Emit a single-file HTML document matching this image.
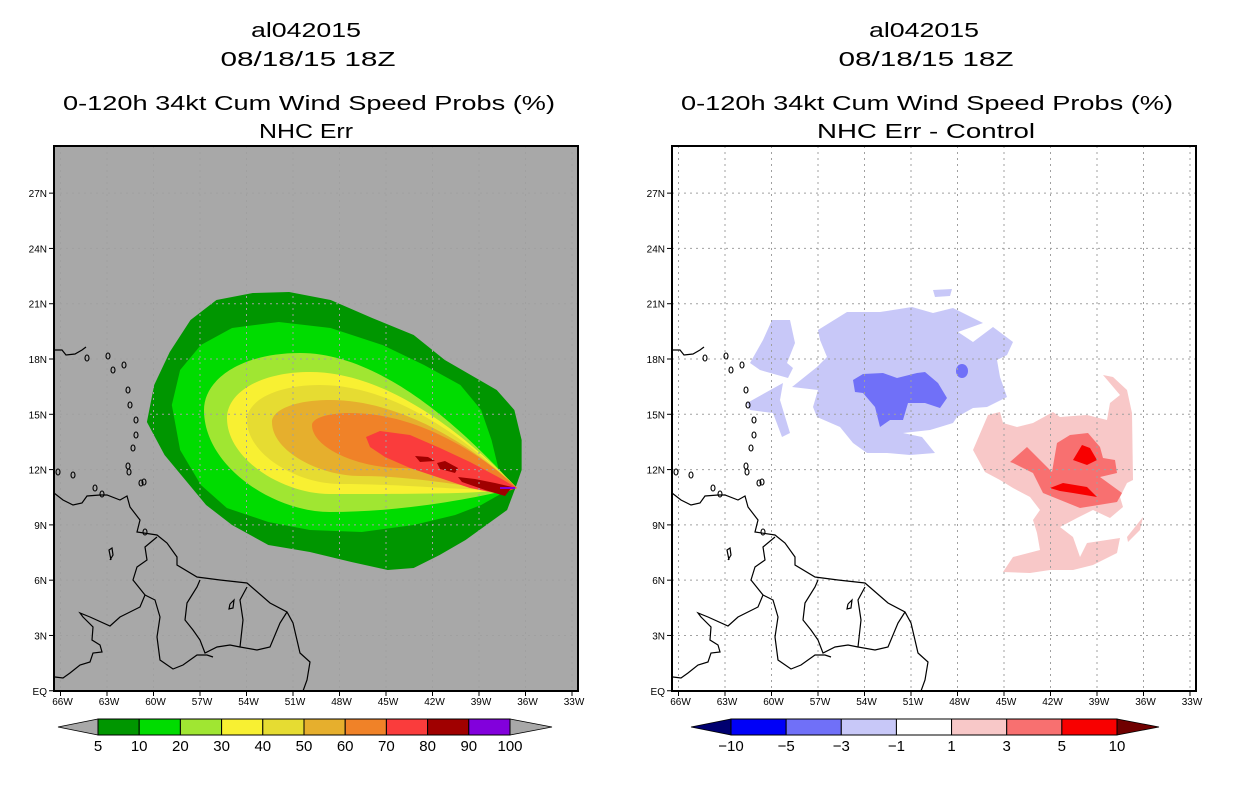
<!DOCTYPE html>
<html><head><meta charset="utf-8"><style>
html,body{margin:0;padding:0;background:#fff;}
svg{display:block;font-family:"Liberation Sans",sans-serif;}
</style></head><body>
<svg id="root" width="1236" height="800" viewBox="0 0 1236 800" xmlns="http://www.w3.org/2000/svg">
<defs>
<clipPath id="clipL"><rect x="54" y="146" width="524" height="545"/></clipPath>
<clipPath id="clipR"><rect x="672" y="146" width="524" height="545"/></clipPath>
</defs>
<g font-size="20" text-anchor="middle" fill="#000">
<text x="306" y="37" textLength="110" lengthAdjust="spacingAndGlyphs">al042015</text>
<text x="308" y="66" textLength="175" lengthAdjust="spacingAndGlyphs">08/18/15 18Z</text>
<text x="309" y="110" textLength="492" lengthAdjust="spacingAndGlyphs">0-120h 34kt Cum Wind Speed Probs (%)</text>
<text x="306" y="138" textLength="94" lengthAdjust="spacingAndGlyphs">NHC Err</text>
</g>
<g font-size="20" text-anchor="middle" fill="#000">
<text x="924" y="37" textLength="110" lengthAdjust="spacingAndGlyphs">al042015</text>
<text x="926" y="66" textLength="175" lengthAdjust="spacingAndGlyphs">08/18/15 18Z</text>
<text x="927" y="110" textLength="492" lengthAdjust="spacingAndGlyphs">0-120h 34kt Cum Wind Speed Probs (%)</text>
<text x="926" y="138" textLength="218" lengthAdjust="spacingAndGlyphs">NHC Err - Control</text>
</g>
<g id="left"></g>
<g id="right"></g>
<g id="cbL"></g>
<g id="cbR"></g>
</svg>
<script>
const NS="http://www.w3.org/2000/svg";
// colorbar data
const probLevels=["5","10","20","30","40","50","60","70","80","90","100"];
const probColors=["#009600","#00dc00","#a0e632","#f8f032","#e6dc32","#e6af2d","#f08228","#fa3c3c","#a00000","#8200dc"];
const diffLevels=["-10","-5","-3","-1","1","3","5","10"];
const diffColors=["#0000f8","#7070f8","#c8c8f8","#ffffff","#f8c8c8","#f87070","#f80000"];
const lonTicks=[66,63,60,57,54,51,48,45,42,39,36,33];
const latTicks=[0,3,6,9,12,15,18,21,24,27];

function X(lon){return 200+(57-lon)*15.5;}
function Y(lat){return 414.3+(15-lat)*18.43;}
function mk(tag,attrs,parent){const e=document.createElementNS(NS,tag);for(const k in attrs)e.setAttribute(k,attrs[k]);parent.appendChild(e);return e;}
function pts(a,dx){return a.map(p=>(p[0]+(dx||0))+","+p[1]).join(" ");}
const cx=x=>40+(x-40)*1.038;

// left map contour bands (pixel outlines)
const band5=[[143,422],[150,385],[165,352],[185,320],[210,300],[245,293],[280,292],[320,300],[360,318],[400,335],[430,360],[455,375],[480,390],[497,410],[504,440],[504,470],[498,488],[490,510],[470,525],[450,540],[425,555],[400,568],[375,570],[340,562],[300,552],[260,545],[225,525],[200,505],[180,480],[160,455]].map(p=>[cx(p[0]),p[1]]);
const band10=[[167,405],[175,370],[195,345],[225,328],[270,322],[320,328],[370,345],[410,365],[445,385],[465,410],[475,440],[482,470],[494,488],[465,505],[440,515],[400,525],[350,532],[300,530],[260,522],[220,508],[195,485],[175,450]].map(p=>[cx(p[0]),p[1]]);
const tip=[517,488];
// teardrop params: left x, left y, top x, top y, bottom x, bottom y
const drops=[[204,410,300,353,330,512],[227,418,310,372,330,494],[247,420,320,385,340,484],[272,422,330,400,360,476],[312,425,350,413,400,468]];
function dropPath(d){const [lx,ly,tx,ty,bx,by]=d;const T=tip;
return `M${T[0]},${T[1]} C${T[0]-25},${T[1]-25} ${tx+(T[0]-tx)*0.45},${ty} ${tx},${ty} C${lx+(tx-lx)*0.4},${ty} ${lx},${ly-(ly-ty)*0.55} ${lx},${ly} C${lx},${ly+(by-ly)*0.55} ${bx-(bx-lx)*0.45},${by} ${bx},${by} C${bx+(T[0]-bx)*0.45},${by} ${T[0]-25},${T[1]+6} ${T[0]},${T[1]} Z`;}
const band70=[[366,437],[380,431],[410,435],[440,448],[470,462],[500,478],[517,488],[500,494],[470,488],[440,478],[410,468],[385,457],[370,447]];
const band80=[[[415,456],[428,457],[435,461],[420,462]],[[437,463],[445,461],[458,468],[455,473],[440,469]],[[458,477],[475,479],[495,483],[512,487],[505,496],[485,490],[462,482]]];

// coastline polylines (left-panel pixels)
const coasts=[
[[54,493],[63,500],[73,505],[82,503],[87,496],[100,495],[107,495],[120,500],[127,496],[130,507],[140,520],[137,532],[157,535],[167,543],[177,557],[177,565],[197,577],[220,580],[247,583],[270,603],[287,612],[293,623],[300,653],[310,662],[307,680],[303,691]],
[[55,677],[63,678],[70,673],[80,665],[90,662],[93,653],[102,652],[100,645],[92,640],[93,627],[83,617],[80,613],[90,617],[110,626],[120,617],[140,607],[145,595],[133,580],[137,567],[147,560],[145,547],[157,537]],
[[145,595],[155,600],[160,617],[157,637],[160,660],[173,669],[183,665],[197,655],[207,655],[213,657]],
[[200,580],[197,587],[187,603],[185,620],[193,630],[200,640],[205,653],[217,647],[230,645],[240,647]],
[[247,587],[240,600],[243,620],[240,647],[257,650],[270,647],[280,623],[287,612]],
[[54,350],[62,350],[66,355],[75,354],[82,350],[86,347]],
[[110,560],[113,555],[112,548],[109,550],[111,560]],
[[230,604],[234,600],[233,608],[229,609],[230,604]]
];
const isles=[[108,356],[113,370],[124,365],[128,390],[130,405],[136,420],[136,435],[133,448],[128,466],[141,483],[144,482],[129,472],[87,358],[58,472],[73,475],[95,488],[102,494],[145,532]];

function drawMap(g,clip,dx,isRight){
  const c=mk("g",{"clip-path":`url(#${clip})`},g);
  
  
  mk("rect",{x:54+dx,y:146,width:524,height:545,fill:isRight?"#ffffff":"#a8a8a8"},c);
  if(!isRight){
    const b5=mk("polygon",{points:pts(band5),fill:probColors[0]},c);
    
    
    const b10=mk("polygon",{points:pts(band10),fill:probColors[1]},c);
    
    
    drops.forEach((d,i)=>{const p=mk("path",{d:dropPath(d),fill:probColors[i+2]},c);
      
      });
    const b70=mk("polygon",{points:pts(band70),fill:probColors[7]},c);
    
    
    band80.forEach(b=>{const p=mk("polygon",{points:pts(b),fill:probColors[8]},c);
      
      });
    const pu=mk("line",{x1:500,y1:488,x2:515,y2:488,stroke:probColors[9],"stroke-width":2},c);
    
    
  } else {
    drawDiff(c);
  }
  // grid
  lonTicks.forEach(l=>{const x=X(l)+dx;const ln=mk("line",{x1:x,y1:146,x2:x,y2:691,stroke:"#a0a0a0","stroke-width":1,"stroke-dasharray":"2,4"},c);
    
    });
  latTicks.forEach(l=>{const y=Y(l);const ln=mk("line",{x1:54+dx,y1:y,x2:578+dx,y2:y,stroke:"#a0a0a0","stroke-width":1,"stroke-dasharray":"2,4"},c);
    
    });
  // coasts
  coasts.forEach(cs=>{const p=mk("polyline",{points:pts(cs,dx),fill:"none",stroke:"#000","stroke-width":1.2},c);
    
    });
  isles.forEach(p=>{const e=mk("ellipse",{cx:p[0]+dx,cy:p[1],rx:2,ry:3,fill:"none",stroke:"#000","stroke-width":1.1},c);
    
    });
  // frame
  const fr=mk("rect",{x:54+dx,y:146,width:524,height:545,fill:"none",stroke:"#000","stroke-width":2},g);
  
  
  // ticks & labels
  lonTicks.forEach(l=>{const x=X(l)+dx;
    mk("line",{x1:x,y1:691,x2:x,y2:696,stroke:"#000"},g);
    const t=mk("text",{x:x+2,y:705,"font-size":10,"text-anchor":"middle"},g);t.textContent=l+"W";
    
    });
  latTicks.forEach(l=>{const y=Y(l);
    mk("line",{x1:49+dx,y1:y,x2:54+dx,y2:y,stroke:"#000"},g);
    const t=mk("text",{x:47+dx,y:y+4,"font-size":10,"text-anchor":"end"},g);t.textContent=l===0?"EQ":l+"N";
    
    });
}

// right map difference regions (absolute pixels)
const lightBlue=[
[[818,330],[847,312],[880,312],[912,307],[933,313],[953,308],[983,323],[958,332],[973,342],[993,327],[1013,342],[1007,355],[997,360],[1000,377],[1007,397],[987,407],[973,408],[957,417],[953,423],[940,427],[930,430],[903,433],[922,437],[935,453],[910,455],[887,453],[867,453],[853,443],[840,427],[817,417],[813,407],[818,390],[792,387],[817,367],[827,357],[820,340]],
[[772,320],[790,320],[795,343],[787,363],[793,368],[788,378],[760,370],[750,363],[763,340]],
[[747,403],[783,383],[780,400],[790,433],[782,437],[773,413],[750,410]],
[[933,290],[952,289],[950,296],[935,297]]];
const midBlue=[[[853,380],[863,374],[883,373],[897,378],[917,373],[925,372],[938,383],[947,398],[940,408],[925,403],[908,403],[903,420],[890,420],[880,427],[875,407],[863,393],[855,392]]];
const pink=[
[[973,450],[988,415],[1000,412],[1003,423],[1017,427],[1033,423],[1053,412],[1060,417],[1087,415],[1107,420],[1110,403],[1120,395],[1103,375],[1113,377],[1127,390],[1132,413],[1133,480],[1127,483],[1120,497],[1123,507],[1110,518],[1093,510],[1083,515],[1077,518],[1060,527],[1073,537],[1080,557],[1087,543],[1120,538],[1117,553],[1093,565],[1073,570],[1050,570],[1030,573],[1003,572],[1013,557],[1040,550],[1037,533],[1033,520],[1040,510],[1030,497],[1013,488],[1000,480],[985,472]],
[[1127,537],[1143,517],[1140,530],[1128,542]]];
const salmon=[[[1010,462],[1027,447],[1037,457],[1052,472],[1057,443],[1070,435],[1088,433],[1100,447],[1103,458],[1115,460],[1117,473],[1100,477],[1122,493],[1117,502],[1080,508],[1043,493],[1033,473],[1013,463]]];
const red=[[[1073,460],[1082,445],[1090,448],[1097,460],[1087,465]],[[1050,488],[1063,483],[1087,487],[1097,497],[1103,498],[1073,493],[1060,491]]];
function drawDiff(c){
  [[lightBlue,diffColors[2],'diff-minus-1'],[midBlue,diffColors[1],'diff-minus-3'],[pink,diffColors[4],'diff-plus-1'],[salmon,diffColors[5],'diff-plus-3'],[red,diffColors[6],'diff-plus-5']].forEach(([arr,col,nm])=>{
    arr.forEach(a=>{const p=mk("polygon",{points:pts(a),fill:col},c);
      
      });
  });
  const e=mk("ellipse",{cx:962,cy:371,rx:6,ry:7,fill:diffColors[1]},c);
  
  
}

drawMap(document.getElementById("left"),"clipL",0,false);
drawMap(document.getElementById("right"),"clipR",618,true);

// colorbars
function colorbar(g,x0,x1,cols,labs,leftCol,rightCol){
  const y0=719,h=16,w=(x1-x0)/cols.length;
  const lt=mk("polygon",{points:`${x0-40},${y0+h/2} ${x0},${y0} ${x0},${y0+h}`,fill:leftCol,stroke:"#000","stroke-width":0.8},g);
  
  
  const rt=mk("polygon",{points:`${x1+42},${y0+h/2} ${x1},${y0} ${x1},${y0+h}`,fill:rightCol,stroke:"#000","stroke-width":0.8},g);
  
  
  cols.forEach((col,i)=>{const r=mk("rect",{x:x0+i*w,y:y0,width:w,height:h,fill:col,stroke:"#000","stroke-width":1},g);
    
    });
  labs.forEach((l,i)=>{const t=mk("text",{x:x0+i*w,y:751,"font-size":15,"text-anchor":"middle"},g);t.textContent=l.replace("-","\u2212");
    
    });
}
colorbar(document.getElementById("cbL"),98,510,probColors,probLevels,"#a8a8a8","#a8a8a8");
colorbar(document.getElementById("cbR"),731,1117,diffColors,diffLevels,"#000070","#700000");
</script>
</body></html>
